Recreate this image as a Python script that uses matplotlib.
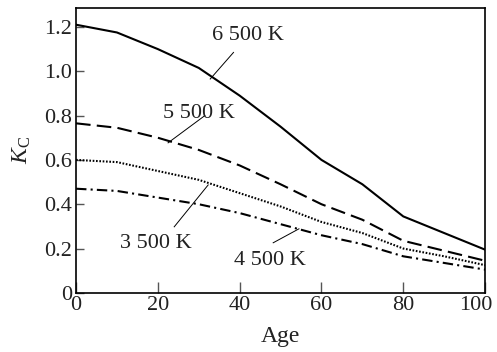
import matplotlib
matplotlib.use('Agg')
import matplotlib.pyplot as plt
import matplotlib.transforms as mtransforms

plt.rcParams['font.family'] = 'Liberation Serif'
plt.rcParams['mathtext.fontset'] = 'custom'
plt.rcParams['mathtext.rm'] = 'Liberation Serif'
plt.rcParams['mathtext.it'] = 'Liberation Serif:italic'

age = [0, 10, 20, 30, 40, 50, 60, 70, 80, 90, 100]
k6500 = [1.21, 1.175, 1.10, 1.015, 0.89, 0.75, 0.60, 0.49, 0.345, 0.27, 0.195]
k5500 = [0.765, 0.745, 0.70, 0.645, 0.575, 0.49, 0.40, 0.33, 0.235, 0.19, 0.145]
k3500 = [0.60, 0.59, 0.55, 0.51, 0.45, 0.39, 0.32, 0.27, 0.20, 0.165, 0.125]
k4500 = [0.47, 0.46, 0.43, 0.40, 0.36, 0.31, 0.26, 0.22, 0.165, 0.135, 0.105]

labels = ['6 500 K', '5 500 K', '3 500 K', '4 500 K']
label_xy = [(42.0, 1.16), (30.0, 0.81), (19.6, 0.225), (47.5, 0.144)]
leaders = [((38.5, 1.085), (32.8, 0.965)),
           ((31.5, 0.80), (22.5, 0.677)),
           ((32.3, 0.487), (24.0, 0.298)),
           ((54.5, 0.289), (48.2, 0.226))]

fig = plt.figure(figsize=(4.97, 3.52), dpi=100)
ax = fig.add_axes([0.153, 0.168, 0.823, 0.809])

ax.plot(age, k6500, color='black', lw=1.5, ls='-')
ax.plot(age, k5500, color='black', lw=1.5, ls=(0, (7, 3)))
ax.plot(age, k3500, color='black', lw=1.5, ls=(0, (0.8, 0.8)))
ax.plot(age, k4500, color='black', lw=1.5, ls=(0, (5, 2, 1, 2)))

for lab, (tx, ty), (p1, p2) in zip(labels, label_xy, leaders):
    ax.text(tx, ty, lab, ha='center', va='center', fontsize=16, color='#222222')
    ax.plot([p1[0], p2[0]], [p1[1], p2[1]], color='black', lw=0.7)

ax.set_xlim(0, 100)
ax.set_ylim(0, 1.285)
ax.set_xticks([0, 20, 40, 60, 80, 100])
ax.set_yticks([0, 0.2, 0.4, 0.6, 0.8, 1.0, 1.2])
ax.set_yticklabels(['0', '0.2', '0.4', '0.6', '0.8', '1.0', '1.2'])
ax.tick_params(direction='in', labelsize=16, color='#555555', width=1, labelcolor='#222222')
ax.tick_params(axis='x', length=8, pad=2)
ax.tick_params(axis='y', length=6, pad=3)
for s in ax.spines.values():
    s.set_linewidth(1.2)

# keep the last x tick label inside the figure, as in the source
last = ax.get_xticklabels()[-1]
last.set_horizontalalignment('right')
last.set_transform(last.get_transform() + mtransforms.ScaledTranslation(7 / 100, 0, fig.dpi_scale_trans))

ax.set_xlabel('Age', fontsize=17, color='#222222', labelpad=8)
ax.set_ylabel(r'$K_{\mathrm{C}}$', fontsize=17, color='#222222', labelpad=8)

fig.savefig('out.png', dpi=100)
